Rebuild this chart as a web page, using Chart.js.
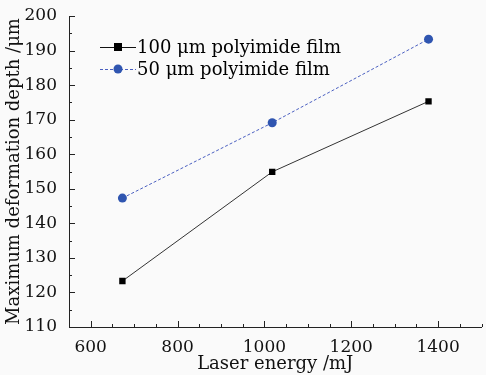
<!DOCTYPE html>
<html lang="en">
<head>
    <meta charset="UTF-8">
    <title>Maximum deformation depth vs laser energy</title>
    <script src="https://cdn.jsdelivr.net/npm/chart.js"></script>
    <style>
        html, body { margin: 0; padding: 0; background: #fafafa; }
        #wrap { width: 486px; height: 375px; }
    </style>
</head>
<body>
    <div id="wrap"><canvas id="chart" width="486" height="375"></canvas></div>

    <script>
        const energy = [673, 1018, 1378];
        const depth100 = [123.3, 154.9, 175.3];
        const depth50 = [147.3, 169.1, 193.3];
        const seriesNames = ['100 \u03bcm polyimide film', '50 \u03bcm polyimide film'];
        const xLabels = [600, 800, 1000, 1200, 1400];

        const FONT = "'DejaVu Serif', serif";

        // inward tick marks, major + minor
        const inwardTicks = {
            id: 'inwardTicks',
            afterDraw(chart) {
                const c = chart.ctx, x = chart.scales.x, y = chart.scales.y;
                const area = chart.chartArea;
                c.save();
                c.strokeStyle = '#222';
                c.lineWidth = 1;
                c.beginPath();
                for (let v = 550; v <= 1500; v += 50) {
                    const px = Math.round(x.getPixelForValue(v)) + 0.5;
                    const len = xLabels.includes(v) ? 6 : 3;
                    c.moveTo(px, area.bottom);
                    c.lineTo(px, area.bottom - len);
                }
                for (let v = 110; v <= 200; v += 5) {
                    const py = Math.round(y.getPixelForValue(v)) + 0.5;
                    const len = v % 10 === 0 ? 6 : 3;
                    c.moveTo(area.left, py);
                    c.lineTo(area.left + len, py);
                }
                c.stroke();
                c.restore();
            }
        };

        // legend drawn inside the plot, top left
        const innerLegend = {
            id: 'innerLegend',
            afterDraw(chart) {
                const c = chart.ctx;
                const rows = [
                    { y: 47, color: '#111', dash: [], point: 'rect' },
                    { y: 69, color: '#4a5fc0', dash: [3, 2], point: 'circle' }
                ];
                c.save();
                c.font = '18px ' + FONT;
                c.textBaseline = 'middle';
                rows.forEach((r, i) => {
                    c.strokeStyle = r.color;
                    c.setLineDash(r.dash);
                    c.lineWidth = 1;
                    c.beginPath();
                    c.moveTo(100, r.y + 0.5);
                    c.lineTo(136, r.y + 0.5);
                    c.stroke();
                    c.setLineDash([]);
                    if (r.point === 'rect') {
                        c.fillStyle = '#000';
                        c.fillRect(114, r.y - 4, 8, 8);
                    } else {
                        c.fillStyle = '#2f55b0';
                        c.beginPath();
                        c.arc(118, r.y, 4.5, 0, Math.PI * 2);
                        c.fill();
                    }
                    c.fillStyle = '#000';
                    c.fillText(seriesNames[i], 137, r.y + 1);
                });
                c.restore();
            }
        };

        const ctx = document.getElementById('chart').getContext('2d');
        const chart = new Chart(ctx, {
            type: 'line',
            data: {
                datasets: [
                    {
                        label: seriesNames[0],
                        data: energy.map((e, i) => ({ x: e, y: depth100[i] })),
                        borderColor: '#333',
                        borderWidth: 1,
                        pointStyle: 'rect',
                        pointRadius: 4.5,
                        pointBackgroundColor: '#000',
                        pointBorderColor: '#000',
                        pointBorderWidth: 0
                    },
                    {
                        label: seriesNames[1],
                        data: energy.map((e, i) => ({ x: e, y: depth50[i] })),
                        borderColor: '#4a5fc0',
                        borderWidth: 1,
                        borderDash: [3, 2],
                        pointStyle: 'circle',
                        pointRadius: 4.5,
                        pointBackgroundColor: '#2f55b0',
                        pointBorderColor: '#2f55b0',
                        pointBorderWidth: 0
                    }
                ]
            },
            options: {
                responsive: false,
                animation: false,
                layout: { padding: { top: 16, right: 1, left: 0, bottom: 0 } },
                plugins: {
                    legend: { display: false },
                    tooltip: { enabled: false }
                },
                scales: {
                    x: {
                        type: 'linear',
                        min: 550,
                        max: 1500,
                        grid: { display: false },
                        border: { display: true, color: '#222', width: 1 },
                        ticks: {
                            stepSize: 50,
                            autoSkip: false,
                            maxRotation: 0,
                            padding: 2,
                            color: '#111',
                            font: { family: FONT, size: 17 },
                            callback: v => xLabels.includes(v) ? String(v) : ''
                        },
                        title: {
                            display: true,
                            text: 'Laser energy /mJ',
                            color: '#111',
                            font: { family: FONT, size: 18 },
                            padding: { top: -3, bottom: 0 }
                        },
                        afterFit: s => { s.height = 48; }
                    },
                    y: {
                        min: 110,
                        max: 200,
                        grid: { display: false },
                        border: { display: true, color: '#222', width: 1 },
                        ticks: {
                            stepSize: 10,
                            padding: 4,
                            color: '#111',
                            font: { family: FONT, size: 17 }
                        },
                        title: {
                            display: true,
                            text: 'Maximum deformation depth /\u03bcm',
                            color: '#111',
                            font: { family: FONT, size: 18 },
                            padding: { top: 4, bottom: 0 }
                        },
                        afterFit: s => { s.width = 69; }
                    }
                }
            },
            plugins: [inwardTicks, innerLegend]
        });
    </script>
</body>
</html>
